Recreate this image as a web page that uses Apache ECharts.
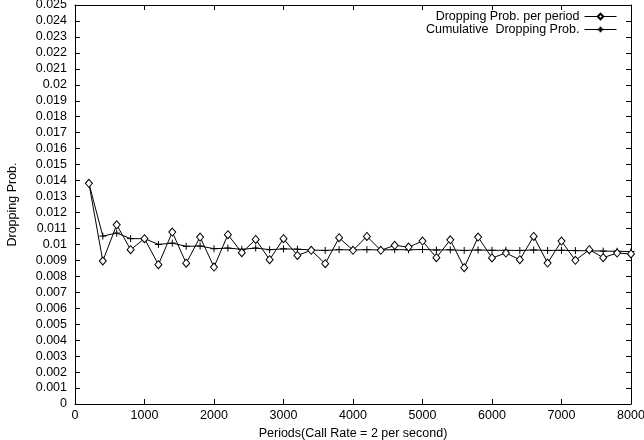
<!DOCTYPE html>
<html>
<head>
<meta charset="utf-8">
<script src="https://cdn.jsdelivr.net/npm/echarts@6/dist/echarts.min.js"></script>
<style>
  html, body { margin: 0; padding: 0; background: #fff; }
  #chart { width: 644px; height: 440px; }
</style>
</head>
<body>
<div id="chart"></div>
<script>
// Simulation periods (x positions of samples)
const periods = [200, 400, 600, 800, 1000, 1200, 1400, 1600, 1800, 2000,
  2200, 2400, 2600, 2800, 3000, 3200, 3400, 3600, 3800, 4000,
  4200, 4400, 4600, 4800, 5000, 5200, 5400, 5600, 5800, 6000,
  6200, 6400, 6600, 6800, 7000, 7200, 7400, 7600, 7800, 8000];

// Dropping probability measured in each period
const perPeriod = [0.01383, 0.00896, 0.01123, 0.00967, 0.01036, 0.00873, 0.01077, 0.00882, 0.01046, 0.00858,
  0.01061, 0.00948, 0.01031, 0.00904, 0.01036, 0.00931, 0.00963, 0.00879, 0.01042, 0.00963,
  0.0105, 0.00963, 0.00994, 0.00983, 0.01021, 0.00917, 0.01029, 0.00854, 0.01046, 0.00915,
  0.00946, 0.00904, 0.0105, 0.00883, 0.01021, 0.009, 0.00967, 0.00917, 0.00946, 0.0094];

// Running (cumulative) dropping probability
const cumulative = [0.01383, 0.01052, 0.01071, 0.01036, 0.01036, 0.0100, 0.01008, 0.00988, 0.0099, 0.00973,
  0.00977, 0.00969, 0.00977, 0.00967, 0.00972, 0.0097, 0.00965, 0.00962, 0.00967, 0.00965,
  0.00967, 0.00965, 0.00967, 0.00966, 0.00968, 0.00965, 0.00966, 0.00962, 0.00965, 0.00963,
  0.00963, 0.00962, 0.00965, 0.00962, 0.00963, 0.00961, 0.0096, 0.00958, 0.00957, 0.00955];

const seriesNames = ['Dropping Prob. per period', 'Cumulative  Dropping Prob.'];
const xTitle = 'Periods(Call Rate = 2 per second)';
const yTitle = 'Dropping Prob.';

const FONT = '"Liberation Sans", Arial, sans-serif';
const FS = 12.5;
const plus = 'path://M0,-5L0,5M-5,0L5,0';

const pairs = (ys) => periods.map((x, i) => [x, ys[i]]);
const yLabel = (v) => String(parseFloat(v.toFixed(3)));
const xLabel = (v) => String(v);

const chart = echarts.init(document.getElementById('chart'), null, { renderer: 'canvas' });

const baseX = {
  type: 'value', min: 0, max: 8000, interval: 1000,
  axisLine: { show: true, onZero: false, lineStyle: { color: '#000', width: 1 } },
  axisTick: { show: true, inside: true, length: 5, lineStyle: { color: '#000' } },
  splitLine: { show: false }
};
const baseY = {
  type: 'value', min: 0, max: 0.025, interval: 0.001,
  axisLine: { show: true, onZero: false, lineStyle: { color: '#000', width: 1 } },
  axisTick: { show: true, inside: true, length: 5, lineStyle: { color: '#000' } },
  splitLine: { show: false }
};

chart.setOption({
  animation: false,
  backgroundColor: '#fff',
  grid: { left: 75, right: 13, top: 5, bottom: 36, containLabel: false, outerBoundsMode: 'none' },
  legend: {
    orient: 'vertical',
    right: 22,
    top: 5,
    align: 'right',
    itemGap: 0,
    itemWidth: 32,
    itemHeight: 7,
    textStyle: { fontFamily: FONT, fontSize: FS, color: '#000', lineHeight: 12 },
    lineStyle: { width: 1 },
    data: seriesNames
  },
  xAxis: [
    Object.assign({}, baseX, {
      position: 'bottom',
      name: xTitle, nameLocation: 'middle', nameGap: 18,
      nameTextStyle: { fontFamily: FONT, fontSize: FS, color: '#000' },
      axisLabel: { fontFamily: FONT, fontSize: FS, color: '#000', margin: 5, formatter: xLabel }
    }),
    Object.assign({}, baseX, { position: 'top', axisLabel: { show: false } })
  ],
  yAxis: [
    Object.assign({}, baseY, {
      position: 'left',
      name: yTitle, nameLocation: 'middle', nameGap: 56, nameRotate: 90,
      nameTextStyle: { fontFamily: FONT, fontSize: FS, color: '#000' },
      axisLabel: { fontFamily: FONT, fontSize: FS, color: '#000', margin: 8, formatter: yLabel }
    }),
    Object.assign({}, baseY, { position: 'right', axisLabel: { show: false } })
  ],
  series: [
    {
      name: seriesNames[0],
      type: 'line',
      data: pairs(perPeriod),
      symbol: 'diamond',
      symbolSize: [7, 8],
      showAllSymbol: true,
      lineStyle: { color: '#000', width: 1 },
      itemStyle: { color: '#fff', borderColor: '#000', borderWidth: 1 },
      z: 3
    },
    {
      name: seriesNames[1],
      type: 'line',
      data: pairs(cumulative),
      symbol: plus,
      symbolSize: 7,
      showAllSymbol: true,
      lineStyle: { color: '#000', width: 1 },
      itemStyle: { color: 'none', borderColor: '#000', borderWidth: 1 },
      z: 2
    }
  ]
});
</script>
</body>
</html>
